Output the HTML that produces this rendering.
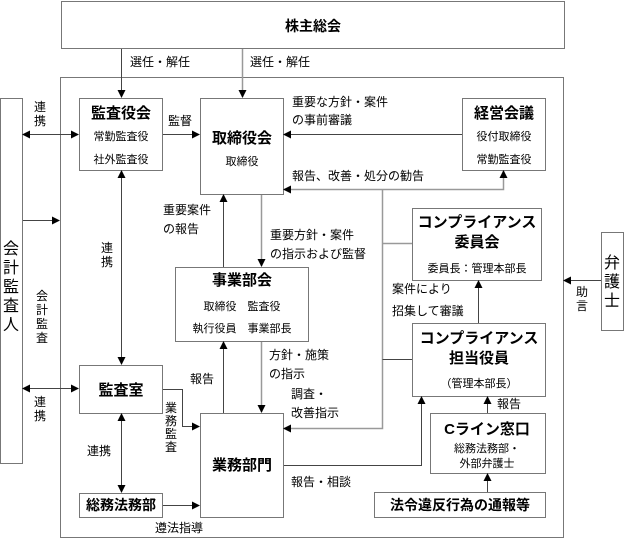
<!DOCTYPE html>
<html><head><meta charset="utf-8"><style>
html,body{margin:0;padding:0;background:#fff;}
svg{display:block;}
text{font-family:"Liberation Sans","Noto Sans CJK JP",sans-serif;fill:#000;}
.b{font-weight:bold;}
</style></head><body>
<svg width="625" height="539" viewBox="0 0 625 539" xmlns="http://www.w3.org/2000/svg">
<defs>
<marker id="a" markerWidth="8" markerHeight="8" refX="7" refY="4" orient="auto" markerUnits="userSpaceOnUse"><path d="M0,0 L8,4 L0,8 z" fill="#000"/></marker>
<marker id="s" markerWidth="8" markerHeight="8" refX="1" refY="4" orient="auto" markerUnits="userSpaceOnUse"><path d="M8,0 L0,4 L8,8 z" fill="#000"/></marker>
</defs>
<g fill="none" stroke="#777" stroke-width="1">
<rect x="61.5" y="1.5" width="503" height="47"/>
<rect x="60.5" y="77.5" width="503" height="460"/>
<rect x="0.5" y="98.5" width="22" height="365"/>
<rect x="601.5" y="232.5" width="22" height="98"/>
<rect x="79.5" y="98.5" width="83" height="72"/>
<rect x="200.5" y="98.5" width="83" height="96"/>
<rect x="462.5" y="98.5" width="83" height="72"/>
<rect x="412.5" y="208.5" width="129" height="72"/>
<rect x="175.5" y="267.5" width="133" height="74"/>
<rect x="79.5" y="365.5" width="83" height="48"/>
<rect x="200.5" y="413.5" width="83" height="104"/>
<rect x="79.5" y="493.5" width="83" height="24"/>
<rect x="412.5" y="323.5" width="133" height="73"/>
<rect x="430.5" y="413.5" width="115" height="60"/>
<rect x="374.5" y="492.5" width="171" height="25"/>
</g>
<g fill="none" stroke="#444" stroke-width="1">
<line x1="121.5" y1="49" x2="121.5" y2="97" marker-end="url(#a)"/>
<line x1="242.5" y1="49" x2="242.5" y2="97" stroke="#999" stroke-width="1.5" marker-end="url(#a)"/>
<line x1="23" y1="134.5" x2="78" y2="134.5" marker-start="url(#s)" marker-end="url(#a)"/>
<line x1="163" y1="134.5" x2="199" y2="134.5" marker-end="url(#a)"/>
<line x1="462" y1="134.5" x2="284" y2="134.5" marker-end="url(#a)"/>
<polyline points="503.5,171 503.5,189.5 284,189.5" stroke="#999" stroke-width="1.5" marker-start="url(#s)" marker-end="url(#a)"/>
<polyline points="382.5,189.5 382.5,428.5 284,428.5" stroke="#999" stroke-width="1.5" marker-end="url(#a)"/>
<line x1="382.5" y1="243.5" x2="412" y2="243.5" stroke="#999" stroke-width="1.5"/>
<line x1="382.5" y1="359.5" x2="412" y2="359.5"/>
<line x1="261.5" y1="195" x2="261.5" y2="266" stroke="#999" stroke-width="1.5" marker-end="url(#a)"/>
<line x1="223.5" y1="267" x2="223.5" y2="195" marker-end="url(#a)"/>
<line x1="121.5" y1="171" x2="121.5" y2="364" marker-start="url(#s)" marker-end="url(#a)"/>
<line x1="23" y1="220.5" x2="59" y2="220.5" marker-end="url(#a)"/>
<line x1="23" y1="388.5" x2="78" y2="388.5" marker-start="url(#s)" marker-end="url(#a)"/>
<polyline points="163,389.5 182.5,389.5 182.5,426.5 199,426.5" marker-end="url(#a)"/>
<line x1="121.5" y1="414" x2="121.5" y2="492" marker-start="url(#s)" marker-end="url(#a)"/>
<line x1="163" y1="505.5" x2="199" y2="505.5" marker-end="url(#a)"/>
<line x1="223.5" y1="413" x2="223.5" y2="342" marker-end="url(#a)"/>
<line x1="261.5" y1="342" x2="261.5" y2="412" stroke="#999" stroke-width="1.5" marker-end="url(#a)"/>
<polyline points="284,465.5 421.5,465.5 421.5,397" marker-end="url(#a)"/>
<line x1="487.5" y1="413" x2="487.5" y2="397" marker-end="url(#a)"/>
<line x1="487.5" y1="492" x2="487.5" y2="474" marker-end="url(#a)"/>
<line x1="478.5" y1="323" x2="478.5" y2="281" marker-end="url(#a)"/>
<line x1="601" y1="280.5" x2="564" y2="280.5" marker-end="url(#a)"/>
</g>
<g font-size="12">
<text x="313" y="31" text-anchor="middle" font-size="14" class="b">株主総会</text>
<text x="130" y="66">選任・解任</text>
<text x="250" y="66">選任・解任</text>
<text x="121" y="118" text-anchor="middle" font-size="15" class="b">監査役会</text>
<text x="121" y="140" text-anchor="middle" font-size="11">常勤監査役</text>
<text x="121" y="163" text-anchor="middle" font-size="11">社外監査役</text>
<text x="242" y="143" text-anchor="middle" font-size="15" class="b">取締役会</text>
<text x="242" y="165" text-anchor="middle" font-size="11">取締役</text>
<text x="504" y="118" text-anchor="middle" font-size="15" class="b">経営会議</text>
<text x="504" y="140" text-anchor="middle" font-size="11">役付取締役</text>
<text x="504" y="163" text-anchor="middle" font-size="11">常勤監査役</text>
<text x="168" y="125">監督</text>
<text x="292" y="106">重要な方針・案件</text>
<text x="292" y="124">の事前審議</text>
<text x="292" y="180">報告、改善・処分の勧告</text>
<text x="163" y="214">重要案件</text>
<text x="163" y="233">の報告</text>
<text x="270" y="239">重要方針・案件</text>
<text x="270" y="258">の指示および監督</text>
<text x="477" y="227" text-anchor="middle" font-size="15" class="b">コンプライアンス</text>
<text x="477" y="247" text-anchor="middle" font-size="15" class="b">委員会</text>
<text x="477" y="272" text-anchor="middle" font-size="11">委員長：管理本部長</text>
<text x="242" y="285" text-anchor="middle" font-size="15" class="b">事業部会</text>
<text x="242" y="310" text-anchor="middle" font-size="11">取締役　監査役</text>
<text x="242" y="332" text-anchor="middle" font-size="11">執行役員　事業部長</text>
<text x="392" y="293">案件により</text>
<text x="392" y="315">招集して審議</text>
<text x="479" y="343" text-anchor="middle" font-size="15" class="b">コンプライアンス</text>
<text x="479" y="363" text-anchor="middle" font-size="15" class="b">担当役員</text>
<text x="479" y="387" text-anchor="middle" font-size="11">（管理本部長）</text>
<text x="121" y="395" text-anchor="middle" font-size="15" class="b">監査室</text>
<text x="190" y="383">報告</text>
<text x="269" y="359">方針・施策</text>
<text x="269" y="378">の指示</text>
<text x="291" y="398">調査・</text>
<text x="291" y="417">改善指示</text>
<text x="497" y="408">報告</text>
<text x="487" y="434" text-anchor="middle" font-size="15" class="b">Cライン窓口</text>
<text x="487" y="452" text-anchor="middle" font-size="11">総務法務部・</text>
<text x="487" y="467" text-anchor="middle" font-size="11">外部弁護士</text>
<text x="242" y="470" text-anchor="middle" font-size="15" class="b">業務部門</text>
<text x="291" y="486">報告・相談</text>
<text x="87" y="455">連携</text>
<text x="121" y="510" text-anchor="middle" font-size="14" class="b">総務法務部</text>
<text x="460" y="510" text-anchor="middle" font-size="14" class="b">法令違反行為の通報等</text>
<text x="155" y="532">遵法指導</text>
</g>
<g font-size="12" text-anchor="middle">
<text x="40" y="111">連</text><text x="40" y="125">携</text>
<text x="107" y="252">連</text><text x="107" y="266">携</text>
<text x="42" y="300">会</text><text x="42" y="314">計</text><text x="42" y="328">監</text><text x="42" y="342">査</text>
<text x="40" y="406">連</text><text x="40" y="420">携</text>
<text x="171" y="412">業</text><text x="171" y="425">務</text><text x="171" y="438">監</text><text x="171" y="451">査</text>
<text x="582" y="296">助</text><text x="582" y="310">言</text>
<g font-size="16"><text x="11" y="254">会</text><text x="11" y="273">計</text><text x="11" y="292">監</text><text x="11" y="311">査</text><text x="11" y="330">人</text>
<text x="612" y="268">弁</text><text x="612" y="287">護</text><text x="612" y="306">士</text></g>
</g>
</svg>
</body></html>
